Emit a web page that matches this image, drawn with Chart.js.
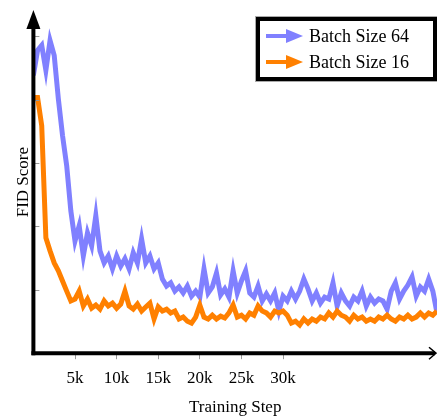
<!DOCTYPE html>
<html>
<head>
<meta charset="utf-8">
<title>FID Score vs Training Step</title>
<script src="https://cdn.jsdelivr.net/npm/chart.js@4"></script>
<style>
    body { margin: 0; background: #fff; }
    #wrap { position: relative; width: 437px; height: 418px; }
    #legend {
        position: absolute; left: 256px; top: 17px; width: 181px; height: 64px;
        box-sizing: border-box; border: 4px solid #000; box-shadow: 0 0 0 1px #aaa;
        background: #fff; padding-top: 2px;
        font-family: 'Liberation Serif', serif; font-size: 18px; color: #000;
    }
    .row { display: flex; align-items: center; height: 26px; }
    .row svg { margin-left: 6px; margin-right: 5px; }
</style>
</head>
<body>
<div id="wrap">
    <canvas id="chart"></canvas>
    <div id="legend"></div>
</div>
<script>
// Training step in thousands
const steps = [0, 0.5, 1, 1.5, 2, 2.5, 3, 3.5, 4, 4.5,
    5, 5.5, 6, 6.5, 7, 7.5, 8, 8.5, 9, 9.5,
    10, 10.5, 11, 11.5, 12, 12.5, 13, 13.5, 14, 14.5,
    15, 15.5, 16, 16.5, 17, 17.5, 18, 18.5, 19, 19.5,
    20, 20.5, 21, 21.5, 22, 22.5, 23, 23.5, 24, 24.5,
    25, 25.5, 26, 26.5, 27, 27.5, 28, 28.5, 29, 29.5,
    30, 30.5, 31, 31.5, 32, 32.5, 33, 33.5, 34, 34.5,
    35, 35.5, 36, 36.5, 37, 37.5, 38, 38.5, 39, 39.5,
    40, 40.5, 41, 41.5, 42, 42.5, 43, 43.5, 44, 44.5,
    45, 45.5, 46, 46.5, 47, 47.5, 48, 48.5];

const batch64 = [87.7, 95.6, 97.2, 89.3, 98.7, 94.0, 80.2, 68.7, 59.2, 44.9,
    35.4, 40.2, 30.7, 38.0, 33.9, 43.4, 32.3, 28.5, 30.7, 26.6,
    30.7, 27.5, 29.8, 26.6, 31.7, 28.5, 36.1, 28.5, 30.7, 26.6,
    28.5, 23.4, 21.2, 22.2, 19.6, 20.9, 19.0, 21.2, 18.0, 19.6,
    17.7, 26.6, 19.0, 20.9, 25.3, 18.4, 20.3, 17.7, 26.0, 19.0,
    22.8, 26.0, 19.0, 17.7, 21.2, 16.5, 18.7, 16.5, 19.0, 13.3,
    18.0, 16.5, 19.6, 17.1, 19.6, 23.4, 20.3, 16.5, 19.0, 15.8,
    17.7, 17.1, 22.2, 14.9, 19.0, 16.5, 14.9, 17.7, 16.5, 19.6,
    14.9, 17.7, 15.8, 17.1, 16.5, 13.9, 19.6, 22.2, 17.1, 19.6,
    21.5, 24.1, 18.0, 20.9, 19.6, 23.4, 19.6, 12.7];

const batch16 = [80.7, 80.7, 71.8, 36.4, 32.3, 28.5, 26.0, 22.8, 19.6, 16.5,
    17.1, 19.6, 14.9, 17.1, 14.2, 15.2, 13.9, 16.5, 14.9, 15.8,
    14.2, 15.5, 19.6, 14.9, 13.9, 15.5, 13.3, 14.6, 15.8, 10.8,
    14.6, 13.3, 13.9, 12.7, 13.3, 10.8, 11.4, 10.1, 9.5, 11.4,
    15.2, 11.4, 10.8, 12.0, 10.8, 11.7, 11.1, 12.7, 15.2, 11.4,
    12.0, 10.8, 12.7, 12.0, 14.9, 13.3, 12.7, 11.4, 13.3, 12.7,
    13.3, 12.0, 9.5, 10.1, 8.9, 10.8, 9.5, 10.8, 10.1, 11.4,
    10.8, 12.7, 11.4, 13.3, 12.0, 11.4, 10.1, 12.0, 10.8, 11.4,
    10.1, 10.8, 10.1, 11.4, 10.8, 12.0, 10.8, 10.1, 11.4, 10.8,
    12.0, 10.8, 11.4, 12.7, 11.4, 12.7, 12.0, 13.3];

const xTicks = [5, 10, 15, 20, 25, 30];
const yTicks = [20, 40, 60, 80, 100];

const series = [
    { label: 'Batch Size 64', data: batch64, color: '#8080ff', order: 2 },
    { label: 'Batch Size 16', data: batch16, color: '#ff8000', order: 1 }
];

const serif = 'Liberation Serif';

// Axes with arrow heads and small inner tick marks on y
const axesArrows = {
    id: 'axesArrows',
    afterDatasetsDraw(chart) {
        const ctx = chart.ctx;
        const a = chart.chartArea;
        const y = chart.scales.y;
        ctx.save();

        ctx.strokeStyle = '#999';
        ctx.lineWidth = 1;
        yTicks.forEach(function(v) {
            const py = Math.round(y.getPixelForValue(v)) + 0.5;
            ctx.beginPath();
            ctx.moveTo(a.left, py);
            ctx.lineTo(a.left + 6, py);
            ctx.stroke();
        });

        ctx.strokeStyle = '#000';
        ctx.lineWidth = 4;
        ctx.beginPath();
        ctx.moveTo(a.left, a.bottom + 2);
        ctx.lineTo(a.left, a.top + 12);
        ctx.stroke();
        ctx.beginPath();
        ctx.moveTo(a.left - 2, a.bottom);
        ctx.lineTo(a.right - 2, a.bottom);
        ctx.stroke();

        ctx.fillStyle = '#000';
        ctx.beginPath();
        ctx.moveTo(a.left, a.top - 1);
        ctx.lineTo(a.left - 7, a.top + 18);
        ctx.lineTo(a.left + 7, a.top + 18);
        ctx.closePath();
        ctx.fill();

        ctx.lineWidth = 1.5;
        ctx.beginPath();
        ctx.moveTo(a.right - 8, a.bottom - 6);
        ctx.lineTo(a.right - 1, a.bottom);
        ctx.lineTo(a.right - 8, a.bottom + 6);
        ctx.stroke();
        ctx.restore();
    }
};

new Chart(document.getElementById('chart'), {
    type: 'line',
    data: {
        labels: steps,
        datasets: series.map(function(s) {
            return {
                label: s.label,
                data: s.data.map(function(v, i) { return { x: steps[i], y: v }; }),
                borderColor: s.color,
                backgroundColor: s.color,
                borderWidth: 5,
                pointRadius: 0,
                tension: 0,
                order: s.order
            };
        })
    },
    options: {
        responsive: true,
        maintainAspectRatio: false,
        animation: false,
        layout: { padding: { left: 13, top: 11, right: 0, bottom: 0 } },
        plugins: {
            legend: { display: false },
            tooltip: { enabled: false }
        },
        scales: {
            x: {
                type: 'linear',
                min: 0,
                max: 48.5,
                afterBuildTicks: function(axis) {
                    axis.ticks = xTicks.map(function(v) { return { value: v }; });
                },
                border: { display: false },
                grid: { drawOnChartArea: false, drawTicks: true, tickLength: 6, color: '#999' },
                ticks: {
                    padding: 9,
                    color: '#000',
                    font: { family: serif, size: 17 },
                    maxRotation: 0,
                    callback: function(v) { return v + 'k'; }
                },
                title: {
                    display: true,
                    text: 'Training Step',
                    color: '#000',
                    font: { family: serif, size: 17 },
                    padding: { top: 0, bottom: 0 }
                }
            },
            y: {
                min: 0,
                max: 108,
                border: { display: false },
                grid: { display: false, drawTicks: false },
                ticks: { display: false },
                title: {
                    display: true,
                    text: 'FID Score',
                    color: '#000',
                    font: { family: serif, size: 17 },
                    padding: 0
                }
            }
        }
    },
    plugins: [axesArrows]
});

// Legend
const legend = document.getElementById('legend');
series.forEach(function(s) {
    const row = document.createElement('div');
    row.className = 'row';
    row.innerHTML = '<svg width="38" height="16" viewBox="0 0 38 16">' +
        '<line x1="0" y1="8" x2="24" y2="8" stroke="' + s.color + '" stroke-width="4"/>' +
        '<polygon points="20,1 37,8 20,15" fill="' + s.color + '"/></svg>' +
        '<span>' + s.label + '</span>';
    legend.appendChild(row);
});
</script>
</body>
</html>
